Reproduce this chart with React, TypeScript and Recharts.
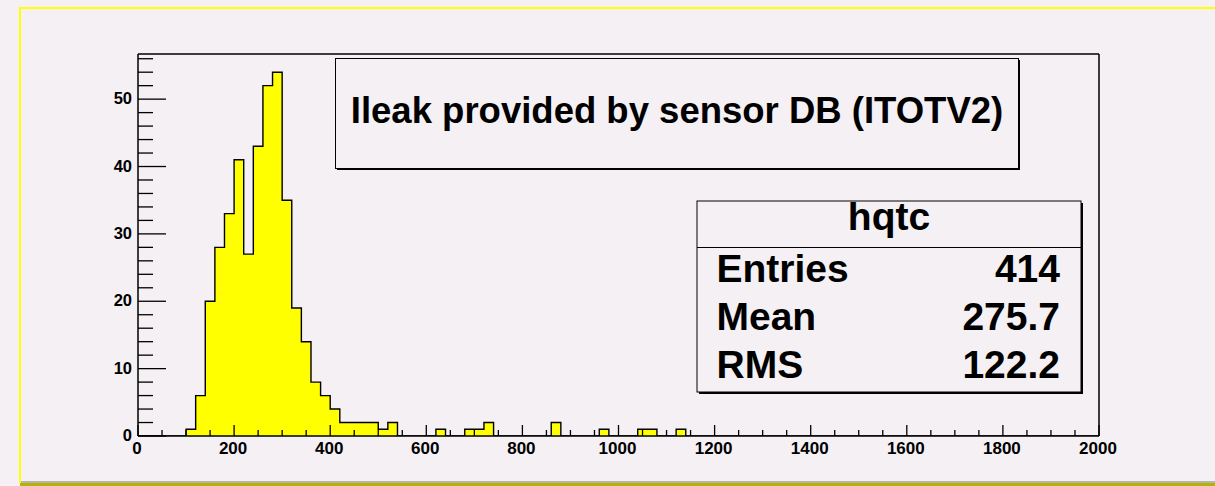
import React from 'react';
import { ComposedChart, Area, XAxis, YAxis, ReferenceLine } from 'recharts';

// ---------- data ----------
const HIST_NAME = 'hqtc';
const TITLE = 'Ileak provided by sensor DB (ITOTV2)';
const X_MIN = 0;
const X_MAX = 2000;
const BIN_WIDTH = 20;
const Y_MAX = 56.7;

// counts per 20-wide bin, starting at 0
const COUNTS_0_400 = [0, 0, 0, 0, 0, 1, 6, 20, 28, 33, 41, 27, 43, 52, 54, 35, 19, 14, 8, 6];
const COUNTS_400_800 = [4, 2, 2, 2, 2, 1, 2, 0, 0, 0, 0, 1, 0, 0, 1, 1, 2, 0, 0, 0];
const COUNTS_800_1200 = [0, 0, 0, 2, 0, 0, 0, 0, 1, 0, 0, 0, 1, 1, 0, 0, 1, 0, 0, 0];
const COUNTS_1200_1600 = [0, 0, 0, 0, 0, 0, 0, 0, 0, 0, 0, 0, 0, 0, 0, 0, 0, 0, 0, 0];
const COUNTS_1600_2000 = [0, 0, 0, 0, 0, 0, 0, 0, 0, 0, 0, 0, 0, 0, 0, 0, 0, 0, 0, 0];

const STAT_LABELS = ['Entries', 'Mean', 'RMS'];
const STAT_VALUES = ['414', '275.7', '122.2'];

const X_MAJOR_TICKS = [0, 200, 400, 600, 800, 1000, 1200, 1400, 1600, 1800, 2000];
const X_MINOR_STEP = 50;
const Y_MAJOR_TICKS = [0, 10, 20, 30, 40, 50];
const Y_MINOR_STEP = 2;
const Y_TICK_TOP = 56;

const COUNTS = [
  ...COUNTS_0_400,
  ...COUNTS_400_800,
  ...COUNTS_800_1200,
  ...COUNTS_1200_1600,
  ...COUNTS_1600_2000,
];
const DATA = [
  ...COUNTS.map((c, i) => ({ x: X_MIN + i * BIN_WIDTH, y: c })),
  { x: X_MAX, y: COUNTS[COUNTS.length - 1] },
];

const X_TICKS: number[] = [];
for (let v = X_MIN; v <= X_MAX; v += X_MINOR_STEP) X_TICKS.push(v);
const Y_TICKS: number[] = [];
for (let v = 0; v <= Y_TICK_TOP; v += Y_MINOR_STEP) Y_TICKS.push(v);

// ---------- style ----------
const W = 1215;
const H = 486;
const BG = '#f4f0f4';
const FONT = '"Liberation Sans", Arial, Helvetica, sans-serif';

const XTick = (props: any) => {
  const { x, y, payload } = props;
  const v = payload.value;
  const major = X_MAJOR_TICKS.includes(v);
  return (
    <g>
      <line x1={x} x2={x} y1={y} y2={y - (major ? 11 : 6)} stroke="#000" strokeWidth={1.3} />
      {major && (
        <text
          x={x - 1}
          y={y + 12}
          textAnchor="middle"
          dominantBaseline="central"
          fontFamily={FONT}
          fontWeight="bold"
          fontSize={17}
          fill="#000"
        >
          {v}
        </text>
      )}
    </g>
  );
};

const YTick = (props: any) => {
  const { x, y, payload } = props;
  const v = payload.value;
  const major = Y_MAJOR_TICKS.includes(v);
  return (
    <g>
      <line x1={x} x2={x + (major ? 28 : 15)} y1={y} y2={y} stroke="#000" strokeWidth={1.3} />
      {major && (
        <text
          x={x - 6}
          y={y - 1}
          textAnchor="end"
          dominantBaseline="central"
          fontFamily={FONT}
          fontWeight="bold"
          fontSize={16.5}
          fill="#000"
        >
          {v}
        </text>
      )}
    </g>
  );
};

export default function App() {
  return (
    <div
      style={{
        position: 'absolute',
        left: 0,
        top: 0,
        width: W,
        height: H,
        background: BG,
        overflow: 'hidden',
      }}
    >
      {/* canvas bevel border */}
      <div style={{ position: 'absolute', left: 19, top: 7, width: 2, height: 476, background: '#ffff00' }} />
      <div style={{ position: 'absolute', left: 19, top: 7, width: W - 19, height: 2, background: '#ffff00' }} />
      <div style={{ position: 'absolute', left: 21, top: 481, width: W - 21, height: 2, background: '#b4b4b4' }} />
      <div style={{ position: 'absolute', left: 20, top: 483, width: W - 20, height: 3, background: '#b4b400' }} />

      <div style={{ position: 'absolute', left: 0, top: 0 }}>
        <ComposedChart
          width={W}
          height={H}
          data={DATA}
          margin={{ top: 54, right: 116, bottom: 10, left: 78 }}
        >
          <Area
            type="stepAfter"
            dataKey="y"
            stroke="#000"
            strokeWidth={1.4}
            fill="#ffff00"
            fillOpacity={1}
            isAnimationActive={false}
            dot={false}
            activeDot={false}
          />
          <ReferenceLine y={Y_MAX} stroke="#000" strokeWidth={1.5} />
          <ReferenceLine x={X_MAX} stroke="#000" strokeWidth={1.5} />
          <XAxis
            type="number"
            dataKey="x"
            domain={[X_MIN, X_MAX]}
            allowDataOverflow
            ticks={X_TICKS}
            interval={0}
            tickSize={0}
            tickMargin={0}
            tickLine={false}
            tick={<XTick />}
            axisLine={{ stroke: '#000', strokeWidth: 1.5 }}
            height={40}
          />
          <YAxis
            type="number"
            domain={[0, Y_MAX]}
            allowDataOverflow
            ticks={Y_TICKS}
            interval={0}
            tickSize={0}
            tickMargin={0}
            tickLine={false}
            tick={<YTick />}
            axisLine={{ stroke: '#000', strokeWidth: 1.5 }}
            width={60}
          />
        </ComposedChart>
      </div>

      {/* title pave and stats box */}
      <svg
        width={W}
        height={H}
        style={{ position: 'absolute', left: 0, top: 0, pointerEvents: 'none' }}
      >
        <rect x={337} y={60} width={683} height={110} fill="#000" />
        <rect x={335.5} y={58.5} width={683} height={110} fill={BG} stroke="#000" strokeWidth={1} />
        <text
          x={677}
          y={123}
          textAnchor="middle"
          fontFamily={FONT}
          fontWeight="bold"
          fontSize={36.5}
          fill="#000"
        >
          {TITLE}
        </text>

        <rect x={699} y={203} width={384} height={191} fill="#000" />
        <rect x={697} y={201} width={384} height={191} fill={BG} stroke="#000" strokeWidth={1} />
        <line x1={697} x2={1081} y1={247.5} y2={247.5} stroke="#000" strokeWidth={1} />
        <text
          x={889}
          y={230}
          textAnchor="middle"
          fontFamily={FONT}
          fontWeight="bold"
          fontSize={39}
          fill="#000"
        >
          {HIST_NAME}
        </text>
        {STAT_LABELS.map((l, i) => (
          <text
            key={l}
            x={716.5}
            y={282 + i * 47.8}
            fontFamily={FONT}
            fontWeight="bold"
            fontSize={39}
            fill="#000"
          >
            {l}
          </text>
        ))}
        {STAT_VALUES.map((v, i) => (
          <text
            key={v}
            x={1060}
            y={282 + i * 47.8}
            textAnchor="end"
            fontFamily={FONT}
            fontWeight="bold"
            fontSize={39}
            fill="#000"
          >
            {v}
          </text>
        ))}
      </svg>
    </div>
  );
}
